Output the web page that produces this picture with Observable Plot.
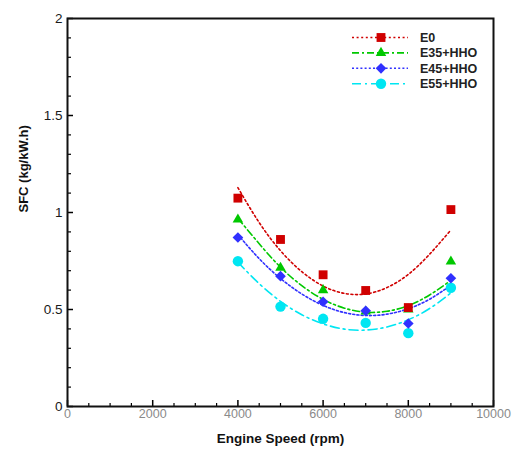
<!DOCTYPE html>
<html>
<head>
<meta charset="utf-8">
<script src="https://cdn.jsdelivr.net/npm/d3@7"></script>
<script src="https://cdn.jsdelivr.net/npm/@observablehq/plot@0.6"></script>
<style>
  html, body { margin: 0; padding: 0; background: #fff; }
  #chart { width: 513px; height: 451px; }
</style>
</head>
<body>
<div id="chart"></div>
<script>
// ---- data ----
const seriesNames = ["E0", "E35+HHO", "E45+HHO", "E55+HHO"];
const speeds = [4000, 5000, 6000, 7000, 8000, 9000];
const e0 = [1.074, 0.861, 0.679, 0.598, 0.510, 1.015];
const e35 = [0.964, 0.715, 0.600, 0.490, 0.500, 0.747];
const e45 = [0.871, 0.672, 0.540, 0.493, 0.428, 0.661];
const e55 = [0.749, 0.515, 0.452, 0.431, 0.378, 0.612];

// trend curves as drawn in the reference
const fitSpeeds = [4000, 4500, 5000, 5500, 6000, 6500, 7000, 7500, 8000, 8500, 9000];
const e0Fit  = [1.128, 0.948, 0.803, 0.695, 0.621, 0.583, 0.580, 0.613, 0.681, 0.785, 0.910];
const e35Fit = [0.970, 0.839, 0.718, 0.623, 0.552, 0.507, 0.486, 0.491, 0.520, 0.575, 0.650];
const e45Fit = [0.886, 0.762, 0.660, 0.580, 0.521, 0.484, 0.469, 0.476, 0.504, 0.553, 0.625];
const e55Fit = [0.744, 0.633, 0.542, 0.473, 0.426, 0.399, 0.394, 0.410, 0.447, 0.505, 0.585];

const xTicks = [0, 2000, 4000, 6000, 8000, 10000];
const xTickLabels = ["0", "2000", "4000", "6000", "8000", "10000"];
const yTicks = [0, 0.5, 1, 1.5, 2];
const yTickLabels = ["0", "0.5", "1", "1.5", "2"];
const xTitle = "Engine Speed (rpm)";
const yTitle = "SFC (kg/kW.h)";

// ---- styles ----
const styles = [
  {color: "#d00000", dash: "2,2.6", symbol: "square", r: 5.0},
  {color: "#00c800", dash: "7,3,2,3", symbol: "triangle", r: 3.9},
  {color: "#3030ff", dash: "2,2.2", symbol: "diamond2", r: 4.8},
  {color: "#00e6f2", dash: "9,4,2,4", symbol: "circle", r: 5.2}
];
const valuesList = [e0, e35, e45, e55];
const fitList = [e0Fit, e35Fit, e45Fit, e55Fit];

const points = valuesList.map((vals, i) => speeds.map((s, j) => ({speed: s, sfc: vals[j], series: seriesNames[i]})));
const curves = fitList.map((vals, i) => fitSpeeds.map((s, j) => ({speed: s, sfc: vals[j], series: seriesNames[i]})));

const xMinor = d3.range(0, 10001, 500).filter(v => !xTicks.includes(v));
const yMinor = d3.range(0, 21).map(v => v / 10).filter(v => !yTicks.includes(v));

const font = "'Liberation Sans', Arial, sans-serif";

const lineMarks = curves.map((c, i) => Plot.line(c, {
  x: "speed", y: "sfc", stroke: styles[i].color, strokeWidth: 1.6,
  strokeDasharray: styles[i].dash, curve: "natural"
}));
const dotOrder = [3, 1, 2, 0];
const dotMarks = dotOrder.map(i => Plot.dot(points[i], {
  x: "speed", y: "sfc", fill: styles[i].color, stroke: "none",
  symbol: () => styles[i].symbol, r: styles[i].r
}));

const chart = Plot.plot({
  width: 513,
  height: 451,
  marginLeft: 67,
  marginRight: 20,
  marginTop: 18,
  marginBottom: 45,
  style: {fontFamily: font, fontSize: "12px", background: "white"},
  x: {domain: [0, 10000], label: null},
  y: {domain: [0, 2], label: null},
  symbol: {type: "identity"},
  marks: [
    // minor & major inward ticks
    Plot.axisX({ticks: xMinor, tickSize: -3, tickFormat: () => "", label: null, strokeWidth: 1.2}),
    Plot.axisX({ticks: xTicks, tickSize: -6, tickFormat: () => "", label: null, strokeWidth: 1.5}),
    Plot.axisY({ticks: yMinor, tickSize: -4, tickFormat: () => "", label: null, strokeWidth: 1.2}),
    Plot.axisY({ticks: yTicks, tickSize: -6, tickFormat: () => "", label: null, strokeWidth: 1.5}),
    // tick labels
    Plot.axisX({ticks: xTicks, tickSize: 0, tickPadding: 3, label: null, fill: "#8a8a8a", fontSize: 12.5,
      tickFormat: d => xTickLabels[xTicks.indexOf(d)]}),
    Plot.axisY({ticks: yTicks, tickSize: 0, tickPadding: 5, label: null, fill: "#1a1a1a", fontSize: 13.5,
      tickFormat: d => yTickLabels[yTicks.indexOf(d)]}),
    Plot.frame({stroke: "#111", strokeWidth: 2}),
    ...lineMarks,
    ...dotMarks,
    Plot.text([xTitle], {frameAnchor: "bottom", dy: 36, text: d => d, fontWeight: "bold", fontSize: 13.5, fill: "#111"}),
    Plot.text([yTitle], {frameAnchor: "left", dx: -44, rotate: -90, text: d => d, fontWeight: "bold", fontSize: 13, fill: "#111"})
  ]
});

document.getElementById("chart").appendChild(chart);

// ---- legend (inside the plot, top right) ----
const svg = d3.select(chart);
const lg = svg.append("g").attr("font-family", font);
const legX1 = 352, legX2 = 408, legMark = 381, legText = 420, legY0 = 37.5, legStep = 15.4;
const symMap = {square: d3.symbolSquare, triangle: d3.symbolTriangle, diamond2: d3.symbolDiamond2, circle: d3.symbolCircle};
seriesNames.forEach((name, i) => {
  const y = legY0 + i * legStep;
  const s = styles[i];
  lg.append("line").attr("x1", legX1).attr("x2", legX2).attr("y1", y).attr("y2", y)
    .attr("stroke", s.color).attr("stroke-width", 1.6).attr("stroke-dasharray", s.dash);
  lg.append("path").attr("transform", `translate(${legMark},${y})`)
    .attr("d", d3.symbol(symMap[s.symbol], Math.PI * s.r * s.r)())
    .attr("fill", s.color);
  lg.append("text").attr("x", legText).attr("y", y).attr("dy", "0.35em")
    .attr("text-anchor", "start")
    .attr("font-size", 12.5).attr("font-weight", "bold").attr("fill", "#222").text(name);
});
</script>
</body>
</html>
